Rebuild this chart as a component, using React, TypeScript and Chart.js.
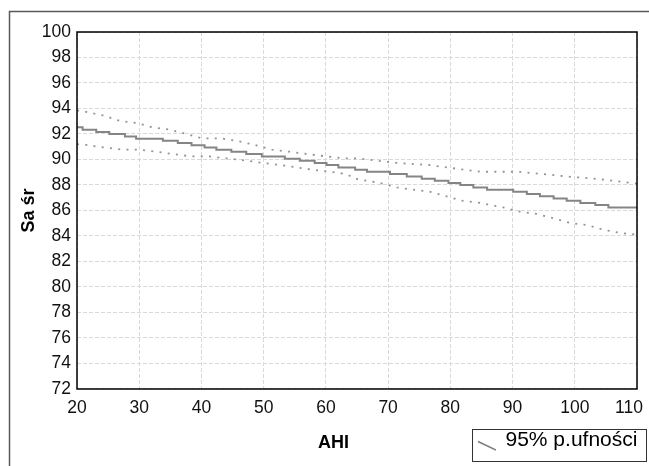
import React, { useEffect, useRef } from 'react';
import { Chart, registerables } from 'chart.js';

Chart.register(...registerables);

// ---- data ----
// fitted line (staircase): x where each level starts, and the level
const fitX = [20, 20.9, 23.1, 25.2, 27.7, 29.5, 33.8, 36.2, 38.4, 40.5, 42.4, 44.8, 47.2, 49.7, 53.4, 55.8, 58.2, 60.1, 62.0, 64.7, 66.6, 70.3, 73.0, 75.4, 77.5, 79.7, 81.6, 83.7, 85.9, 90.1, 92.3, 94.4, 96.6, 98.7, 100.9, 103.3, 105.4, 110];
const fitY = [92.52, 92.34, 92.16, 92.0, 91.81, 91.63, 91.47, 91.29, 91.11, 90.95, 90.77, 90.61, 90.43, 90.24, 90.06, 89.91, 89.73, 89.57, 89.38, 89.2, 89.04, 88.86, 88.67, 88.49, 88.34, 88.16, 88.0, 87.81, 87.63, 87.47, 87.29, 87.11, 86.95, 86.77, 86.59, 86.43, 86.24, 86.24];

// upper 95% confidence bound
const upperX = [20, 21.5, 24.2, 26.8, 29.5, 32.2, 34.9, 37.6, 40.2, 43.2, 45.6, 48.6, 51.3, 54.2, 56.9, 60.1, 62.8, 65.2, 68.2, 71.4, 76.5, 79.4, 84.8, 90.7, 95.0, 98.7, 102.5, 106.2, 109.2, 110];
const upperY = [93.85, 93.73, 93.46, 93.04, 92.86, 92.52, 92.34, 92.0, 91.65, 91.65, 91.47, 91.14, 90.77, 90.61, 90.43, 90.24, 90.09, 90.09, 89.91, 89.73, 89.57, 89.38, 89.04, 89.04, 88.86, 88.67, 88.52, 88.34, 88.16, 88.1];

// lower 95% confidence bound
const lowerX = [20, 21.5, 24.2, 27.4, 30.1, 32.7, 35.4, 38.4, 41.3, 44.0, 47.2, 49.9, 52.6, 55.3, 57.9, 60.6, 63.3, 64.7, 68.7, 71.4, 74.0, 76.7, 79.4, 81.8, 84.8, 88.5, 91.2, 93.9, 96.6, 99.3, 101.9, 104.6, 107.3, 108.7, 110];
const lowerY = [91.2, 91.14, 90.95, 90.77, 90.77, 90.61, 90.43, 90.24, 90.24, 90.09, 89.91, 89.73, 89.57, 89.38, 89.2, 89.04, 88.86, 88.49, 88.16, 87.81, 87.63, 87.47, 87.11, 86.77, 86.59, 86.24, 85.91, 85.73, 85.38, 85.02, 84.86, 84.49, 84.24, 84.16, 84.1];

// axes
const xMin = 20;
const xMax = 110;
const xStep = 10;
const yMin = 72;
const yMax = 100;
const yStep = 2;
const xTitle = 'AHI';
const yTitle = 'Sa śr';
const legendLabel = '95% p.ufności';

const FONT = "'Liberation Sans', Arial, sans-serif";

const toPoints = (xs: number[], ys: number[]) => xs.map((x, i) => ({ x, y: ys[i] }));

export default function App() {
  const ref = useRef<HTMLCanvasElement>(null);

  useEffect(() => {
    if (!ref.current) return;

    const icon = document.createElement('canvas');
    icon.width = 24;
    icon.height = 22;
    const ic = icon.getContext('2d')!;
    ic.strokeStyle = '#7a7a7a';
    ic.lineWidth = 1.4;
    ic.beginPath();
    ic.moveTo(6, 12.5);
    ic.lineTo(24, 21);
    ic.stroke();

    const framePlugin: any = {
      id: 'frames',
      afterLayout(chart: any) {
        const lg = chart.legend;
        if (lg && lg.lineWidths) {
          lg.top = 419.5;
          lg.bottom = 466;
          lg.height = lg.bottom - lg.top;
          lg.right = 473 + lg.lineWidths[0];
          lg.left = 0;
          lg.width = lg.right;
        }
        const sx = chart.scales.x;
        if (sx && !sx.__patched) {
          const origTitle = sx.drawTitle;
          sx.drawTitle = function () {
            const l = this.left;
            this.left = l - 47;
            origTitle.call(this);
            this.left = l;
          };
          const origItems = sx.getLabelItems;
          sx.getLabelItems = function (ca: any) {
            const items = origItems.call(this, ca);
            const last = items[items.length - 1];
            if (last && !last.__shifted && last.options && last.options.translation) {
              const t = last.options.translation;
              last.options.translation = [t[0] - 8, t[1]];
              last.__shifted = true;
            }
            return items;
          };
          sx.__patched = true;
        }
      },
      beforeDraw(chart: any) {
        const ctx = chart.ctx;
        ctx.save();
        ctx.strokeStyle = '#5a5a5a';
        ctx.lineWidth = 1.5;
        ctx.beginPath();
        ctx.moveTo(9.5, 466);
        ctx.lineTo(9.5, 11.5);
        ctx.lineTo(649, 11.5);
        ctx.stroke();
        ctx.restore();
      },
      afterDraw(chart: any) {
        const ctx = chart.ctx;
        const a = chart.chartArea;
        ctx.save();
        ctx.strokeStyle = '#000';
        ctx.lineWidth = 1.5;
        ctx.strokeRect(a.left, a.top, a.right - a.left, a.bottom - a.top);
        const lg = chart.legend;
        if (lg && lg.legendHitBoxes && lg.legendHitBoxes[0]) {
          const hb = lg.legendHitBoxes[0];
          ctx.strokeStyle = '#333';
          ctx.lineWidth = 1;
          const x1 = Math.round(hb.left) - 0.5;
          const x2 = Math.round(hb.left + hb.width) + 9.5;
          ctx.strokeRect(x1, 429.5, x2 - x1, 32);
        }
        ctx.restore();
      },
    };

    const chart = new Chart(ref.current, {
      type: 'line',
      data: {
        datasets: [
          {
            label: 'fit',
            data: toPoints(fitX, fitY),
            borderColor: '#858585',
            borderWidth: 2,
            stepped: 'before',
            pointRadius: 0,
            fill: false,
          },
          {
            label: legendLabel,
            data: toPoints(upperX, upperY),
            borderColor: '#949494',
            borderWidth: 1.8,
            borderDash: [2, 6.3],
            pointRadius: 0,
            tension: 0,
            fill: false,
          },
          {
            label: 'lower',
            data: toPoints(lowerX, lowerY),
            borderColor: '#949494',
            borderWidth: 1.8,
            borderDash: [2, 6.3],
            pointRadius: 0,
            tension: 0,
            fill: false,
          },
        ],
      } as any,
      options: {
        animation: false,
        responsive: true,
        maintainAspectRatio: false,
        events: [],
        layout: { padding: { top: 32, right: 12, bottom: 0, left: 0 } },
        plugins: {
          tooltip: { enabled: false },
          title: { display: false },
          legend: {
            display: true,
            position: 'bottom',
            align: 'end',
            maxHeight: 0.01,
            labels: {
              usePointStyle: true,
              pointStyleWidth: 22,
              padding: 10,
              color: '#111',
              font: { family: FONT, size: 21 },
              generateLabels: () => [
                {
                  text: legendLabel,
                  pointStyle: icon,
                  fillStyle: 'rgba(0,0,0,0)',
                  strokeStyle: 'rgba(0,0,0,0)',
                  lineWidth: 0,
                  hidden: false,
                  datasetIndex: 1,
                } as any,
              ],
            },
          } as any,
        },
        scales: {
          x: {
            type: 'linear',
            min: xMin,
            max: xMax,
            ticks: {
              stepSize: xStep,
              padding: 8.5,
              color: '#111',
              font: { family: FONT, size: 17.5 },
              maxRotation: 0,
            },
            grid: { color: '#d9d9d9', lineWidth: 1, drawTicks: false },
            border: { display: false, dash: [4, 2] },
            title: {
              display: true,
              text: xTitle,
              color: '#000',
              font: { family: FONT, size: 18, weight: 'bold' },
              padding: { top: 0, bottom: 12.2 },
            },
            afterFit: (s: any) => {
              s.height = 77;
              s.paddingLeft = 0;
              s.paddingRight = 0;
            },
          } as any,
          y: {
            type: 'linear',
            min: yMin,
            max: yMax,
            ticks: {
              stepSize: yStep,
              padding: 6,
              color: '#111',
              font: { family: FONT, size: 17.5 },
            },
            grid: { color: '#d9d9d9', lineWidth: 1, drawTicks: false },
            border: { display: false, dash: [4, 2] },
            title: {
              display: true,
              text: yTitle,
              color: '#000',
              font: { family: FONT, size: 18, weight: 'bold' },
              padding: { top: 17.9, bottom: 0 },
            },
            afterFit: (s: any) => {
              s.width = 77;
            },
          } as any,
        },
      },
      plugins: [framePlugin],
    });

    return () => chart.destroy();
  }, []);

  return (
    <div style={{ position: 'fixed', left: 0, top: 0, width: 649, height: 466, background: '#fff' }}>
      <canvas ref={ref} />
    </div>
  );
}
